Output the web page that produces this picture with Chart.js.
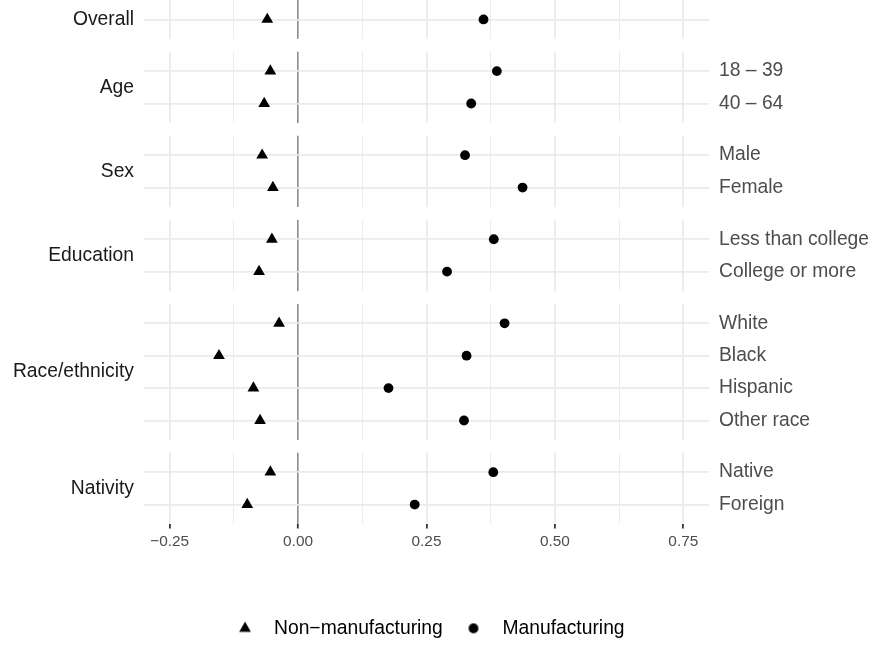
<!DOCTYPE html>
<html><head><meta charset="utf-8">
<script src="https://cdn.jsdelivr.net/npm/chart.js@4.4.1/dist/chart.umd.min.js"></script>
<style>html,body{margin:0;padding:0;background:#fff}#wrap{width:875px;height:646px}</style>
</head><body><div id="wrap"><canvas id="c" width="875" height="646"></canvas></div>
<script>
// ---------- data ----------
const groups = ['Overall', 'Age', 'Sex', 'Education', 'Race/ethnicity', 'Nativity'];
const categories = ['', '18 – 39', '40 – 64', 'Male', 'Female', 'Less than college', 'College or more',
  'White', 'Black', 'Hispanic', 'Other race', 'Native', 'Foreign'];
const categoryGroups = ['Overall', 'Age', 'Age', 'Sex', 'Sex', 'Education', 'Education',
  'Race/ethnicity', 'Race/ethnicity', 'Race/ethnicity', 'Race/ethnicity', 'Nativity', 'Nativity'];
const nonManufacturing = [-0.060, -0.054, -0.066, -0.070, -0.049, -0.051, -0.076, -0.037, -0.154, -0.087, -0.074, -0.054, -0.099];
const manufacturing = [0.361, 0.387, 0.337, 0.325, 0.437, 0.381, 0.290, 0.402, 0.328, 0.176, 0.323, 0.380, 0.227];
const seriesNames = ['Non−manufacturing', 'Manufacturing'];
const xMajorTicks = [-0.25, 0, 0.25, 0.5, 0.75];
const xMinorTicks = [-0.125, 0.125, 0.375, 0.625];
const xTickLabels = ['−0.25', '0.00', '0.25', '0.50', '0.75'];

// ---------- layout helpers ----------
const EXPAND = 0.6, PANEL_GAP = 0.395;
const rowPos = [];
let acc = 0;
categories.forEach((c, i) => {
  if (i > 0) acc += (categoryGroups[i] === categoryGroups[i - 1]) ? 1 : 2 * EXPAND + PANEL_GAP;
  rowPos.push(acc);
});
const panels = groups.map(g => {
  const ps = rowPos.filter((p, i) => categoryGroups[i] === g);
  return { name: g, lo: Math.min(...ps), hi: Math.max(...ps) };
});
const yMin = -EXPAND, yMax = rowPos[rowPos.length - 1] + EXPAND;

const FONT = '"Liberation Sans", Arial, Helvetica, sans-serif';
const LEG_FONT = 19.3, LEG_PAD = 21, PAD_BOTTOM = -2;
const PANEL_BOTTOM = 524;
const X_AXIS_H = 646 - PANEL_BOTTOM - (LEG_FONT + LEG_PAD + 10) - PAD_BOTTOM;
const LEGEND_SHIFT = 7.5;

const markerStyles = [{ pointStyle: 'triangle', radius: 6.8 }, { pointStyle: 'circle', radius: 4.9 }];

const isMajor = v => xMajorTicks.some(t => Math.abs(t - v) < 1e-9);
const isZero = v => Math.abs(v) < 1e-9;

function legendMarker(style) {
  const cv = document.createElement('canvas');
  cv.width = 20; cv.height = 20;
  const cx = cv.getContext('2d');
  cx.fillStyle = '#000';
  Chart.helpers.drawPoint(cx, { pointStyle: style.pointStyle, radius: style.radius, borderWidth: 0, rotation: 0 }, 10, 10);
  return cv;
}

const panelGaps = {
  id: 'panelGaps',
  beforeDatasetsDraw(chart) {
    const { ctx, chartArea: a, scales } = chart;
    const y = scales.y;
    ctx.save();
    ctx.fillStyle = '#ffffff';
    for (let k = 0; k < panels.length - 1; k++) {
      const y1 = y.getPixelForValue(panels[k].hi + EXPAND);
      const y2 = y.getPixelForValue(panels[k + 1].lo - EXPAND);
      ctx.fillRect(a.left - 3, y1, a.right - a.left + 6, y2 - y1);
    }
    ctx.restore();
  },
  beforeDraw(chart) {
    if (chart.legend && !chart.legend._shifted) {
      chart.legend.right -= 2 * LEGEND_SHIFT;
      chart.legend._shifted = true;
    }
  },
  afterLayout(chart) { if (chart.legend) chart.legend._shifted = false; }
};

const noPad = s => { s.paddingTop = 0; s.paddingBottom = 0; s.paddingLeft = 0; s.paddingRight = 0; };

new Chart(document.getElementById('c'), {
  type: 'scatter',
  data: {
    datasets: [
      {
        label: seriesNames[0],
        data: nonManufacturing.map((v, i) => ({ x: v, y: rowPos[i] })),
        pointStyle: markerStyles[0].pointStyle, pointRadius: markerStyles[0].radius, pointHoverRadius: markerStyles[0].radius,
        backgroundColor: '#000', borderColor: '#000', borderWidth: 0, yAxisID: 'y'
      },
      {
        label: seriesNames[1],
        data: manufacturing.map((v, i) => ({ x: v, y: rowPos[i] })),
        pointStyle: markerStyles[1].pointStyle, pointRadius: markerStyles[1].radius, pointHoverRadius: markerStyles[1].radius,
        backgroundColor: '#000', borderColor: '#000', borderWidth: 0, yAxisID: 'y'
      }
    ]
  },
  options: {
    responsive: false, animation: false, devicePixelRatio: 1,
    layout: { padding: { left: 0, right: 0, top: 0, bottom: PAD_BOTTOM }, autoPadding: false },
    plugins: {
      tooltip: { enabled: false },
      legend: {
        position: 'bottom',
        labels: {
          usePointStyle: true, padding: LEG_PAD, color: '#000',
          font: { family: FONT, size: LEG_FONT },
          generateLabels(chart) {
            const items = Chart.defaults.plugins.legend.labels.generateLabels(chart);
            items.forEach((it, i) => {
              it.text = '\u2002' + it.text;
              it.lineWidth = 0;
              it.pointStyle = legendMarker(markerStyles[i]);
            });
            return items;
          }
        }
      }
    },
    scales: {
      x: {
        type: 'linear', min: -0.3, max: 0.8, bounds: 'data', position: 'bottom',
        afterBuildTicks(s) {
          s.ticks = [...xMajorTicks, ...xMinorTicks].sort((a, b) => a - b).map(v => ({ value: v }));
        },
        afterFit(s) { s.height = X_AXIS_H; noPad(s); },
        ticks: {
          autoSkip: false, maxRotation: 0, minRotation: 0, padding: 4,
          color: '#4D4D4D', font: { family: FONT, size: 15.4 },
          callback(v) { const i = xMajorTicks.findIndex(t => Math.abs(t - v) < 1e-9); return i >= 0 ? xTickLabels[i] : ''; }
        },
        grid: {
          drawTicks: true, tickLength: 4.5,
          color: c => isZero(c.tick.value) ? '#8C8C8C' : '#EBEBEB',
          lineWidth: c => isZero(c.tick.value) ? 1.6 : (isMajor(c.tick.value) ? 1.8 : 0.9),
          tickColor: c => isMajor(c.tick.value) ? '#333333' : 'rgba(0,0,0,0)',
          tickWidth: 1.8
        },
        border: { display: false }
      },
      y: {
        type: 'linear', position: 'right', reverse: true, min: yMin, max: yMax, bounds: 'data',
        afterBuildTicks(s) { s.ticks = rowPos.map(v => ({ value: v })); },
        afterFit(s) { s.width = 166; noPad(s); },
        ticks: {
          autoSkip: false, padding: 10, color: '#4D4D4D', font: { family: FONT, size: 19.3 },
          callback(v, i) { return categories[i]; }
        },
        grid: { drawTicks: false, color: '#EBEBEB', lineWidth: 1.8 },
        border: { display: false }
      },
      ys: {
        type: 'linear', position: 'left', reverse: true, min: yMin, max: yMax, bounds: 'data',
        afterBuildTicks(s) { s.ticks = panels.map(p => ({ value: (p.lo + p.hi) / 2 })); },
        afterFit(s) { s.width = 144; noPad(s); },
        ticks: {
          autoSkip: false, padding: 10, color: '#1A1A1A', font: { family: FONT, size: 19.3 },
          callback(v, i) { return groups[i]; }
        },
        grid: { display: false, drawTicks: false },
        border: { display: false }
      }
    }
  },
  plugins: [panelGaps]
});
</script>
</body></html>
